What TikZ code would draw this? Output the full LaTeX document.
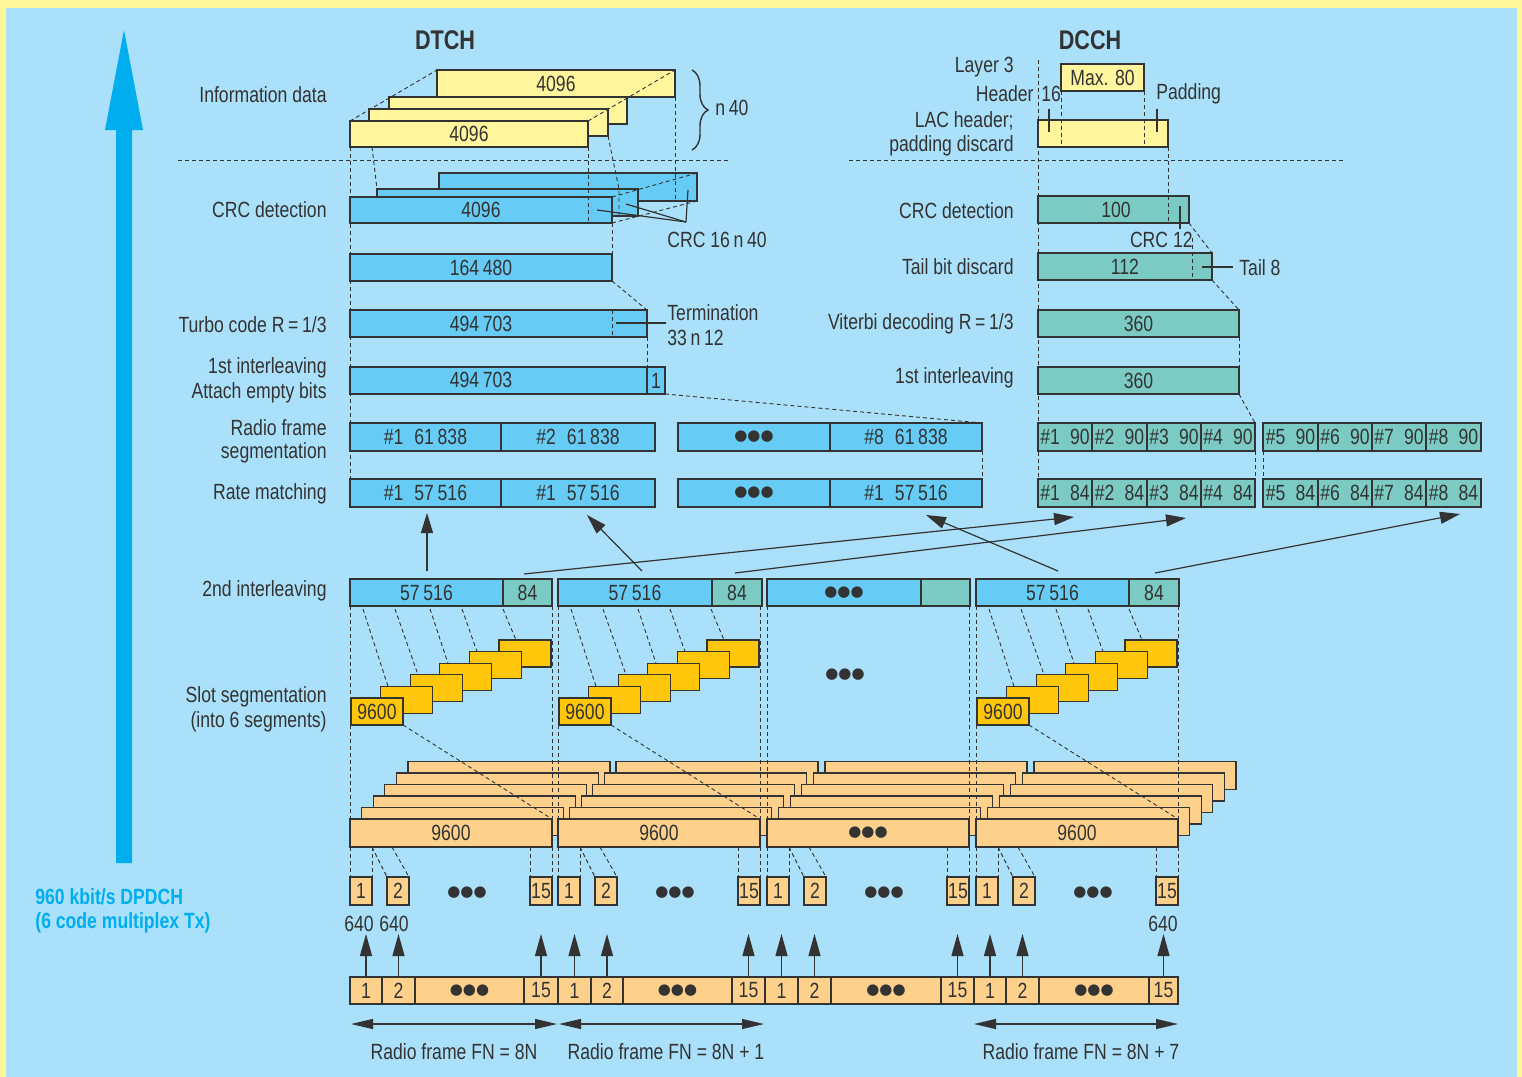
\documentclass[tikz,border=0pt]{standalone}
\usepackage{fontspec}
\setmainfont{Liberation Sans}[FakeStretch=0.8]
\newfontfamily\dotf{DejaVu Sans}
\usetikzlibrary{arrows.meta,decorations.pathreplacing}
\definecolor{bg}{HTML}{AAE0F9}
\definecolor{frameY}{HTML}{FFF59A}
\definecolor{pyel}{HTML}{FFF59D}
\definecolor{pblue}{HTML}{66CCF5}
\definecolor{pteal}{HTML}{7BCBC4}
\definecolor{pgold}{HTML}{FFC70B}
\definecolor{porange}{HTML}{FDD08C}
\definecolor{cyanA}{HTML}{00AEEF}
\definecolor{lc}{HTML}{333333}
\newcommand\fs{\fontsize{11}{13}\selectfont}
\newcommand\dotsym{{\dotf\fontsize{7.5}{8}\selectfont ●●●}}
\newcommand\bx[7]{\node[bx,fill=#6,minimum width={((#4)-(#2))*0.5pt},minimum height={((#5)-(#3))*0.5pt}] (#1) at ({((#2)+(#4))/2},{((#3)+(#5))/2}) {#7};}
\begin{document}
\begin{tikzpicture}[x=0.5pt,y=-0.5pt,font=\fs,
 bx/.style={draw=lc,line width=0.65pt,inner sep=0pt,outer sep=0pt,text=lc},
 lbl/.style={inner sep=0pt,text=lc},
 dsh/.style={draw=lc,line width=0.45pt,dash pattern=on 2pt off 1.5pt},
 con/.style={draw=lc,line width=0.6pt},
 arr/.style={con,-{Triangle[length=10pt,width=6pt]}},
 uparr/.style={con,-{Triangle[length=11pt,width=6pt]}},
 dblarr/.style={con,{Triangle[length=11pt,width=5pt]}-{Triangle[length=11pt,width=5pt]}}]
\fill[frameY] (0,0) rectangle (1522,1077);
\fill[bg] (6,8) rectangle (1517,1077);
\useasboundingbox (0,0) rectangle (1522,1077);
% big arrow
\fill[cyanA] (116,863) -- (116,130) -- (105,130) -- (124,30) -- (143,130) -- (132,130) -- (132,863) -- cycle;
\node[lbl,anchor=west,text=cyanA,font=\fs\bfseries] (rate1) at (35,897) {960 kbit/s DPDCH};
\node[lbl,anchor=west,text=cyanA,font=\fs\bfseries] (rate2) at (35,923) {(6 code multiplex Tx)};
% titles
\node[lbl,font=\fontsize{13.5}{15}\selectfont\bfseries] (tDTCH) at (445,40) {DTCH};
\node[lbl,font=\fontsize{13.5}{15}\selectfont\bfseries] (tDCCH) at (1090,40) {DCCH};
% left labels
\node[lbl,anchor=east] (l1) at (327,95) {Information data};
\node[lbl,anchor=east] (l2) at (327,210) {CRC detection};
\node[lbl,anchor=east] (l3) at (327,325) {Turbo code R\,=\,1/3};
\node[lbl,anchor=east] (l4) at (327,368) {1st interleaving};
\node[lbl,anchor=east] (l5) at (327,393) {Attach empty bits};
\node[lbl,anchor=east] (l6) at (327,428) {Radio frame};
\node[lbl,anchor=east] (l7) at (327,453) {segmentation};
\node[lbl,anchor=east] (l8) at (327,494) {Rate matching};
\node[lbl,anchor=east] (l9) at (327,591) {2nd interleaving};
\node[lbl,anchor=east] (l10) at (327,697) {Slot segmentation};
\node[lbl,anchor=east] (l11) at (327,722) {(into 6 segments)};
% DCCH labels
\node[lbl,anchor=east] (d1) at (1014,67) {Layer 3};
\node[lbl,anchor=east] (d2) at (1034,94) {Header};
\node[lbl,anchor=west] (d2b) at (1041,94) {16};
\node[lbl,anchor=west] (d3) at (1156,94) {Padding};
\node[lbl,anchor=east] (d4) at (1014,121) {LAC header;};
\node[lbl,anchor=east] (d5) at (1014,146) {padding discard};
\node[lbl,anchor=east] (d6) at (1014,211) {CRC detection};
\node[lbl,anchor=east] (d7) at (1014,267) {Tail bit discard};
\node[lbl,anchor=east] (d8) at (1014,324) {Viterbi decoding R\,=\,1/3};
\node[lbl,anchor=east] (d9) at (1014,378) {1st interleaving};
% separators
\coordinate (s1a) at (178,160); \coordinate (s1b) at (730,160);
\coordinate (s2a) at (849,160); \coordinate (s2b) at (1343,160);
\draw[dsh] (s1a) -- (s1b);
\draw[dsh] (s2a) -- (s2b);
% DTCH info data
\bx{inf3}{437}{70}{675}{97}{pyel}{4096}
\bx{inf2}{389}{97}{627}{124}{pyel}{}
\bx{inf1}{369}{109}{608}{136}{pyel}{}
\bx{inf0}{350}{121}{588}{147}{pyel}{4096}
\draw[con,line width=0.7pt,decorate,decoration={brace,amplitude=8pt}] (692,70) -- (692,150);
\node[lbl,anchor=west] (n40) at (715,108) {n\,40};
% CRC
\bx{crc2}{439}{173}{697}{201}{pblue}{}
\bx{crc1}{377}{189}{638}{216}{pblue}{}
\bx{crc0}{350}{197}{612}{223}{pblue}{4096}
\bx{enc}{350}{254}{612}{281}{pblue}{164\,480}
\bx{turbo}{350}{310}{647}{337}{pblue}{}
\node[lbl] (turbol) at (481,324) {494\,703};
\bx{il1}{350}{367}{647}{394}{pblue}{}
\node[lbl] (il1l) at (481,380) {494\,703};
\bx{il1b}{647}{367}{665}{394}{pblue}{1}
% radio frame / rate matching DTCH
\bx{rf1}{350}{423}{501}{451}{pblue}{\#1\enspace 61\,838}
\bx{rf2}{501}{423}{655}{451}{pblue}{\#2\enspace 61\,838}
\bx{rf3}{678}{423}{830}{451}{pblue}{\dotsym}
\bx{rf8}{830}{423}{982}{451}{pblue}{\#8\enspace 61\,838}
\bx{rm1}{350}{479}{501}{507}{pblue}{\#1\enspace 57\,516}
\bx{rm2}{501}{479}{655}{507}{pblue}{\#1\enspace 57\,516}
\bx{rm3}{678}{479}{830}{507}{pblue}{\dotsym}
\bx{rm8}{830}{479}{982}{507}{pblue}{\#1\enspace 57\,516}
% DCCH boxes
\bx{max}{1061}{64}{1144}{91}{pyel}{Max. 80}
\bx{lac}{1038}{120}{1168}{147}{pyel}{}
\bx{dcrc}{1038}{196}{1189}{223}{pteal}{}
\node[lbl] (dcrcl) at (1116,210) {100};
\bx{tail}{1038}{253}{1212}{280}{pteal}{112}
\bx{vit}{1038}{310}{1239}{337}{pteal}{360}
\bx{dil}{1038}{367}{1239}{394}{pteal}{360}
\foreach \n/\a/\b in {1/1038/1092,2/1092/1147,3/1147/1201,4/1201/1255,5/1263/1318,6/1318/1372,7/1372/1426,8/1426/1481} {
  \bx{drf\n}{\a}{423}{\b}{451}{pteal}{\#\n\hspace{5pt}90}
  \bx{drm\n}{\a}{479}{\b}{507}{pteal}{\#\n\hspace{5pt}84}
}
% 2nd interleaving
\bx{si1b}{350}{579}{503}{606}{pblue}{57\,516}
\bx{si1t}{503}{579}{552}{606}{pteal}{84}
\bx{si2b}{558}{579}{712}{606}{pblue}{57\,516}
\bx{si2t}{712}{579}{762}{606}{pteal}{84}
\bx{si3b}{767}{579}{921}{606}{pblue}{\dotsym}
\bx{si3t}{921}{579}{970}{606}{pteal}{}
\bx{si4b}{976}{579}{1129}{606}{pblue}{57\,516}
\bx{si4t}{1129}{579}{1179}{606}{pteal}{84}
% slot staircases
\foreach \g/\b in {1/350,2/558,4/976} {
  \foreach \i in {5,4,...,0} {
    \pgfmathsetmacro\xa{\b+1+29.6*\i}
    \pgfmathsetmacro\ya{698-11.6*\i}
    \bx{st\g-\i}{\xa}{\ya}{\xa+52}{\ya+27}{pgold}{}
  }
  \node[lbl] (stl\g) at (st\g-0) {9600};
}
\node[lbl] (stdots) at (845,675) {\dotsym};
% orange frame stacks
\foreach \k in {5,4,...,0} {
  \foreach \g/\b in {1/350,2/558,3/767,4/976} {
    \pgfmathsetmacro\xa{\b+11.6*\k}
    \pgfmathsetmacro\ya{819-11.5*\k}
    \bx{or\g-\k}{\xa}{\ya}{\xa+202}{\ya+28}{porange}{}
  }
}
\node[lbl] (orl1) at (or1-0) {9600};
\node[lbl] (orl2) at (or2-0) {9600};
\node[lbl] (orl3) at (or3-0) {\dotsym};
\node[lbl] (orl4) at (or4-0) {9600};
% slot boxes and their guides
\foreach \g/\b in {1/350,2/558,3/767,4/976} {
  \bx{sa\g}{\b}{877}{\b+22}{905}{porange}{1}
  \bx{sb\g}{\b+37}{877}{\b+59}{905}{porange}{2}
  \bx{sc\g}{\b+180}{877}{\b+202}{905}{porange}{15}
  \node[lbl] (sd\g) at (\b+117,893) {\dotsym};
  \draw[dsh] (\b,606) -- (or\g-0.north west);
  \draw[dsh] (\b+202,606) -- (or\g-0.north east);
  \draw[dsh] (or\g-0.south west) -- (sa\g.north west);
  \draw[dsh] (\b+22,847) -- (sa\g.north east);
  \draw[dsh] (\b+22,847) -- (sb\g.north west);
  \draw[dsh] (\b+42,847) -- (sb\g.north east);
  \draw[dsh] (\b+180,847) -- (sc\g.north west);
  \draw[dsh] (or\g-0.south east) -- (sc\g.north east);
}
\foreach \g/\b in {1/350,2/558,4/976} {
  \foreach \s/\e/\i in {13/38/1,45/68/2,80/98/3,112/127/4,153/166/5} {
    \draw[dsh] (\b+\s,609) -- (\b+\e,{698-11.6*\i});
  }
  \draw[dsh] (st\g-0.south east) -- (or\g-0.north east);
}
% bottom bar
\foreach \g/\a/\bb/\c/\d/\e in {1/350/382/415/524/558,2/558/591/623/732/765,3/765/798/831/941/974,4/974/1006/1039/1149/1178} {
  \bx{ba\g}{\a}{977}{\bb}{1004}{porange}{1}
  \bx{bb\g}{\bb}{977}{\c}{1004}{porange}{2}
  \bx{bc\g}{\c}{977}{\d}{1004}{porange}{\dotsym}
  \bx{bd\g}{\d}{977}{\e}{1004}{porange}{15}
  \draw[uparr] (ba\g.north) -- ++(0,-43);
  \draw[uparr] (bb\g.north) -- ++(0,-43);
  \draw[uparr] (bd\g.north) -- ++(0,-43);
}
\node[lbl] (v1) at (359,924) {640};
\node[lbl] (v2) at (394,924) {640};
\node[lbl] (v3) at (1163,924) {640};
\coordinate (f0) at (351,1024); \coordinate (f1) at (557,1024);
\coordinate (f1b) at (559,1024); \coordinate (f2) at (764,1024);
\coordinate (f3) at (974,1024); \coordinate (f4) at (1178,1024);
\draw[dblarr] (f0) -- (f1);
\draw[dblarr] (f1b) -- (f2);
\draw[dblarr] (f3) -- (f4);
\node[lbl] (fn1) at (454,1052) {Radio frame FN = 8N};
\node[lbl] (fn2) at (666,1052) {Radio frame FN = 8N + 1};
\node[lbl] (fn3) at (1081,1052) {Radio frame FN = 8N + 7};
% DTCH guides
\draw[dsh] (inf0.north west) -- (inf3.north west);
\draw[dsh] (inf0.north east) -- (inf3.north east);
\draw[dsh] (inf3.south east) -- (inf3.south east |- crc2.south);
\draw[dsh] (inf0.south east) -- (inf0.south east |- crc0.south);
\draw[dsh] (372,147) -- (crc1.north west);
\draw[dsh] (inf1.south east) -- (619,189) -- (619,216);
\draw[dsh] (crc0.north east) -- (crc2.north east);
\draw[dsh] (crc0.south east) -- (crc2.south east);
\draw[dsh] (crc0.south east) -- (enc.north east);
\draw[dsh] (enc.south east) -- (turbo.north east);
\draw[dsh] (enc.south east |- turbo.north) -- (enc.south east |- turbo.south);
\draw[dsh] (turbo.south east) -- (il1.north east);
\draw[dsh] (il1b.south east) -- (rf8.north east);
\draw[dsh] (rf8.south east) -- (rm8.north east);
\draw[dsh] (inf0.south west) -- (rm1.north west);
\coordinate (crcp) at (686,222);
\draw[con] (597,210) -- (crcp);
\draw[con] (626,204) -- (crcp);
\draw[con] (688,190) -- (crcp);
\node[lbl,anchor=west] (crcl) at (667,240) {CRC 16\,n\,40};
\coordinate (term) at (666,323);
\draw[con] (616,323) -- (term);
\node[lbl,anchor=west] (terml1) at (667,313) {Termination};
\node[lbl,anchor=west] (terml2) at (667,338) {33\,n\,12};
% DCCH guides
\draw[dsh] (1038,60) -- (drm1.north west);
\draw[dsh] (max.south west) -- (max.south west |- lac.south);
\draw[dsh] (max.south east) -- (max.south east |- lac.south);
\draw[con] (1049,109) -- (1049,132);
\draw[con] (1157,109) -- (1157,132);
\draw[dsh] (lac.south east) -- (lac.south east |- dcrc.south);
\draw[con] (1180,206) -- (1180,229);
\node[lbl,anchor=east] (crc12) at (1193,240) {CRC 12};
\draw[dsh] (dcrc.south east) -- (tail.north east);
\draw[dsh] (1192,238) -- (1192,280);
\coordinate (tailp) at (1233,267);
\draw[con] (1202,267) -- (tailp);
\node[lbl,anchor=west] (tail8) at (1239,268) {Tail 8};
\draw[dsh] (tail.south east) -- (vit.north east);
\draw[dsh] (vit.south east) -- (dil.north east);
\draw[dsh] (dil.south east) -- (drf4.north east);
\draw[dsh] (drf4.south east) -- (drm4.north east);
\draw[dsh] (drf5.south west) -- (drm5.north west);
% arrows from 2nd interleaving to rate matching
\coordinate (a1s) at (427,571); \coordinate (a1e) at (427,513);
\coordinate (a2s) at (642,571); \coordinate (a2e) at (587,515);
\coordinate (a3s) at (524,574); \coordinate (a3e) at (1074,517);
\coordinate (a4s) at (735,573); \coordinate (a4e) at (1186,518);
\coordinate (a5s) at (1058,571); \coordinate (a5e) at (926,515);
\coordinate (a6s) at (1155,573); \coordinate (a6e) at (1460,514);
\draw[arr] (a1s) -- (a1e);
\draw[arr] (a2s) -- (a2e);
\draw[arr] (a3s) -- (a3e);
\draw[arr] (a4s) -- (a4e);
\draw[arr] (a5s) -- (a5e);
\draw[arr] (a6s) -- (a6e);
\end{tikzpicture}
\end{document}
